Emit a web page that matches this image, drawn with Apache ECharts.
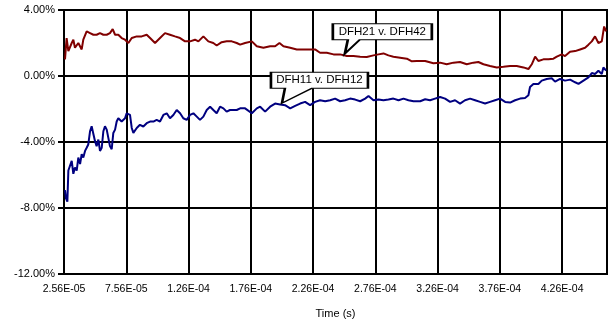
<!DOCTYPE html>
<html>
<head>
<meta charset="utf-8">
<script src="https://cdn.jsdelivr.net/npm/echarts@6/dist/echarts.min.js"></script>
<style>
html,body{margin:0;padding:0;background:#fff;}
#chart{width:611px;height:324px;}
</style>
</head>
<body>
<div id="chart"></div>
<script>
// Time values in microseconds (axis shows seconds)
const xTickLabels = ['2.56E-05','7.56E-05','1.26E-04','1.76E-04','2.26E-04','2.76E-04','3.26E-04','3.76E-04','4.26E-04'];
const yTickLabels = ['-12.00%','-8.00%','-4.00%','0.00%','4.00%'];
const T0 = 25.6;     // first tick, µs
const TMAX = 461.6;  // right edge, µs

// Series "DFH21 v. DFH42" (%)
const redT = [26.4,27.7,29.1,30.4,31.8,33.1,34.4,37.1,39.8,41.1,43.8,46.5,49.2,51.8,54.5,57.2,59.9,62.5,64.7,66.6,69.2,71.9,74.6,77.3,80.0,84.0,88.0,92.0,94.7,98.7,102.7,106.7,110.7,114.7,118.8,122.8,126.8,130.8,133.5,137.5,141.5,145.5,148.2,152.2,156.2,160.3,164.3,167.0,171.0,
176.4,180.4,185.7,191.1,195.1,198.6,201.8,207.2,212.5,217.9,223.2,227.2,231.2,236.6,242.0,247.3,252.7,258.0,263.4,268.7,274.1,278.1,282.1,286.1,290.1,295.5,300.9,304.9,308.9,315.6,
316.9,322.2,327.6,332.9,338.3,343.6,349.0,354.3,358.3,362.4,367.7,373.1,378.4,383.8,389.1,394.5,398.5,401.2,403.9,406.5,410.5,414.6,418.6,421.3,425.3,427.9,431.9,436.0,440.0,444.0,446.7,449.4,452.0,454.7,457.4,459.3,460.9];
const redV = [1.01,2.30,1.51,1.41,2.00,2.20,1.71,2.00,1.61,2.20,2.70,2.60,2.50,2.50,2.60,2.50,2.50,2.60,2.84,2.50,2.50,2.30,2.20,2.00,2.30,2.40,2.40,2.50,2.30,2.00,2.30,2.60,2.50,2.40,2.30,2.10,2.10,2.20,2.10,2.40,2.10,2.00,1.85,2.05,2.10,2.10,2.00,1.90,2.00,
2.10,1.80,1.71,1.80,1.80,2.00,1.80,1.71,1.61,1.61,1.61,1.61,1.41,1.41,1.31,1.31,1.21,1.21,1.17,1.15,1.25,1.31,1.37,1.25,1.17,1.11,1.05,0.89,0.91,0.91,
0.87,0.77,0.81,0.71,0.81,0.85,0.71,0.81,0.85,0.71,0.61,0.52,0.56,0.61,0.61,0.52,0.42,0.71,1.17,0.91,1.01,1.01,1.05,1.17,1.31,1.21,1.47,1.51,1.61,1.71,1.90,2.10,2.40,2.00,2.10,3.00,2.70];

// Series "DFH11 v. DFH12" (%)
const blueT = [26.4,27.2,28.3,29.1,30.4,31.8,33.1,34.4,35.8,37.1,38.5,39.8,41.1,42.5,43.8,45.1,46.5,47.8,49.2,50.5,51.8,53.2,54.5,55.9,57.2,58.5,59.9,61.2,62.5,63.9,65.2,66.6,67.9,69.2,70.6,71.9,73.3,74.6,75.9,77.3,78.6,80.0,81.3,82.6,84.0,86.6,89.3,92.0,94.7,97.4,100.0,102.7,105.4,108.1,110.7,113.4,116.1,118.8,121.4,124.1,126.8,129.5,132.2,134.8,137.5,140.2,142.9,145.5,148.2,150.9,153.6,156.2,158.9,161.6,164.3,167.0,171.0,
176.4,180.4,183.1,187.1,191.1,195.1,199.1,203.1,207.2,211.2,215.2,219.2,223.2,227.2,231.2,235.3,239.3,243.3,247.3,251.3,255.3,259.4,263.4,267.4,270.1,274.1,278.1,282.1,286.1,290.1,294.2,298.2,302.2,306.2,311.6,315.6,
319.5,323.5,327.6,331.6,335.6,339.6,343.6,347.6,351.7,355.7,359.7,363.7,367.7,371.7,375.7,379.8,383.8,387.8,391.8,395.8,398.5,399.8,402.5,406.5,409.2,413.2,417.2,419.9,423.9,427.9,432.0,436.0,438.7,442.7,446.7,449.4,452.0,454.7,457.4,458.7,460.9];
const blueV = [-6.92,-7.42,-7.62,-5.73,-5.83,-5.14,-5.93,-5.54,-5.73,-4.94,-5.34,-4.74,-4.94,-4.54,-4.35,-4.15,-3.35,-3.05,-3.15,-3.95,-4.25,-3.85,-4.54,-4.35,-3.35,-3.05,-3.25,-3.75,-4.25,-4.44,-3.45,-3.25,-2.76,-2.56,-2.46,-2.76,-2.86,-2.56,-2.26,-2.16,-2.36,-3.15,-3.45,-3.35,-3.15,-2.96,-3.06,-2.86,-2.76,-2.76,-2.66,-2.76,-2.36,-2.26,-2.56,-2.36,-2.06,-2.26,-2.56,-2.66,-2.36,-2.26,-2.46,-2.66,-2.46,-2.06,-1.86,-2.06,-2.26,-1.86,-1.96,-2.16,-2.06,-2.06,-2.06,-1.96,-1.96,
-2.26,-1.96,-1.86,-2.16,-1.86,-1.67,-1.73,-1.77,-1.96,-1.81,-1.67,-1.57,-1.77,-1.57,-1.47,-1.53,-1.47,-1.37,-1.53,-1.47,-1.37,-1.43,-1.53,-1.37,-1.21,-1.47,-1.43,-1.47,-1.43,-1.37,-1.47,-1.37,-1.47,-1.53,-1.53,-1.41,
-1.47,-1.37,-1.27,-1.37,-1.57,-1.47,-1.67,-1.47,-1.37,-1.47,-1.57,-1.67,-1.57,-1.47,-1.37,-1.57,-1.61,-1.47,-1.37,-1.33,-1.17,-0.67,-0.48,-0.48,-0.28,-0.18,-0.14,-0.34,-0.18,-0.28,-0.22,-0.38,-0.48,-0.28,-0.08,0.18,0.12,0.32,0.12,0.52,0.32];

const redName = 'DFH21 v. DFH42';
const blueName = 'DFH11 v. DFH12';
const redCallout = [251.1, 1.35];
const blueCallout = [200.6, -1.65];

const FONT = '"Liberation Sans", Arial, sans-serif';
const toPairs = (t, v) => t.map((x, i) => [x - T0, v[i]]);

const chart = echarts.init(document.getElementById('chart'), null, {renderer: 'canvas'});
chart.setOption({
  animation: false,
  backgroundColor: '#fff',
  grid: {left: 64, top: 10, right: 4, bottom: 45, show: true, borderColor: '#000', borderWidth: 2, backgroundColor: 'transparent'},
  xAxis: {
    type: 'value', min: 0, max: TMAX - T0, interval: 50,
    name: 'Time (s)', nameLocation: 'middle', nameGap: 34,
    nameTextStyle: {fontFamily: FONT, fontSize: 11, color: '#000'},
    axisLine: {show: true, lineStyle: {color: '#000', width: 2}},
    axisTick: {show: false},
    axisLabel: {fontFamily: FONT, fontSize: 10.5, color: '#000', margin: 10, showMaxLabel: false,
      formatter: v => { const i = Math.round(v / 50); return (Math.abs(v - i*50) < 1e-6 && xTickLabels[i]) ? xTickLabels[i] : ''; }},
    splitLine: {show: true, lineStyle: {color: '#000', width: 2}}
  },
  yAxis: {
    type: 'value', min: -12, max: 4, interval: 4,
    axisLine: {show: true, lineStyle: {color: '#000', width: 2}},
    axisTick: {show: true, inside: false, length: 6, lineStyle: {color: '#000', width: 2}},
    axisLabel: {fontFamily: FONT, fontSize: 11, color: '#000', margin: 9,
      formatter: v => yTickLabels[Math.round((v + 12) / 4)]},
    splitLine: {show: true, lineStyle: {color: '#000', width: 2}}
  },
  series: [
    {
      name: redName, type: 'line', data: toPairs(redT, redV), showSymbol: false, symbol: 'none',
      lineStyle: {color: '#800000', width: 2}, itemStyle: {color: '#800000'}, z: 3,
      markPoint: {
        z: 10, silent: true,
        data: [{
          coord: [redCallout[0] - T0, redCallout[1]],
          symbol: 'path://M0 0 L99 0 L99 16 L27 16 L12 30 L15 16 L0 16 Z',
          symbolSize: [99, 30], symbolOffset: [37.5, -15],
          itemStyle: {color: '#fff', borderColor: '#000', borderWidth: 1.5},
          label: {show: true, formatter: redName, position: 'inside', offset: [0, -7], color: '#000', fontFamily: FONT, fontSize: 11.5}
        }]
      }
    },
    {
      name: blueName, type: 'line', data: toPairs(blueT, blueV), showSymbol: false, symbol: 'none',
      lineStyle: {color: '#000080', width: 2}, itemStyle: {color: '#000080'}, z: 3,
      markPoint: {
        z: 10, silent: true,
        data: [{
          coord: [blueCallout[0] - T0, blueCallout[1]],
          symbol: 'path://M0 0 L97 0 L97 16 L41 16 L11 31 L14 16 L0 16 Z',
          symbolSize: [97, 31], symbolOffset: [37.5, -15.5],
          itemStyle: {color: '#fff', borderColor: '#000', borderWidth: 1.5},
          label: {show: true, formatter: blueName, position: 'inside', offset: [0, -7.5], color: '#000', fontFamily: FONT, fontSize: 11.5}
        }]
      }
    }
  ]
});
</script>
</body>
</html>
